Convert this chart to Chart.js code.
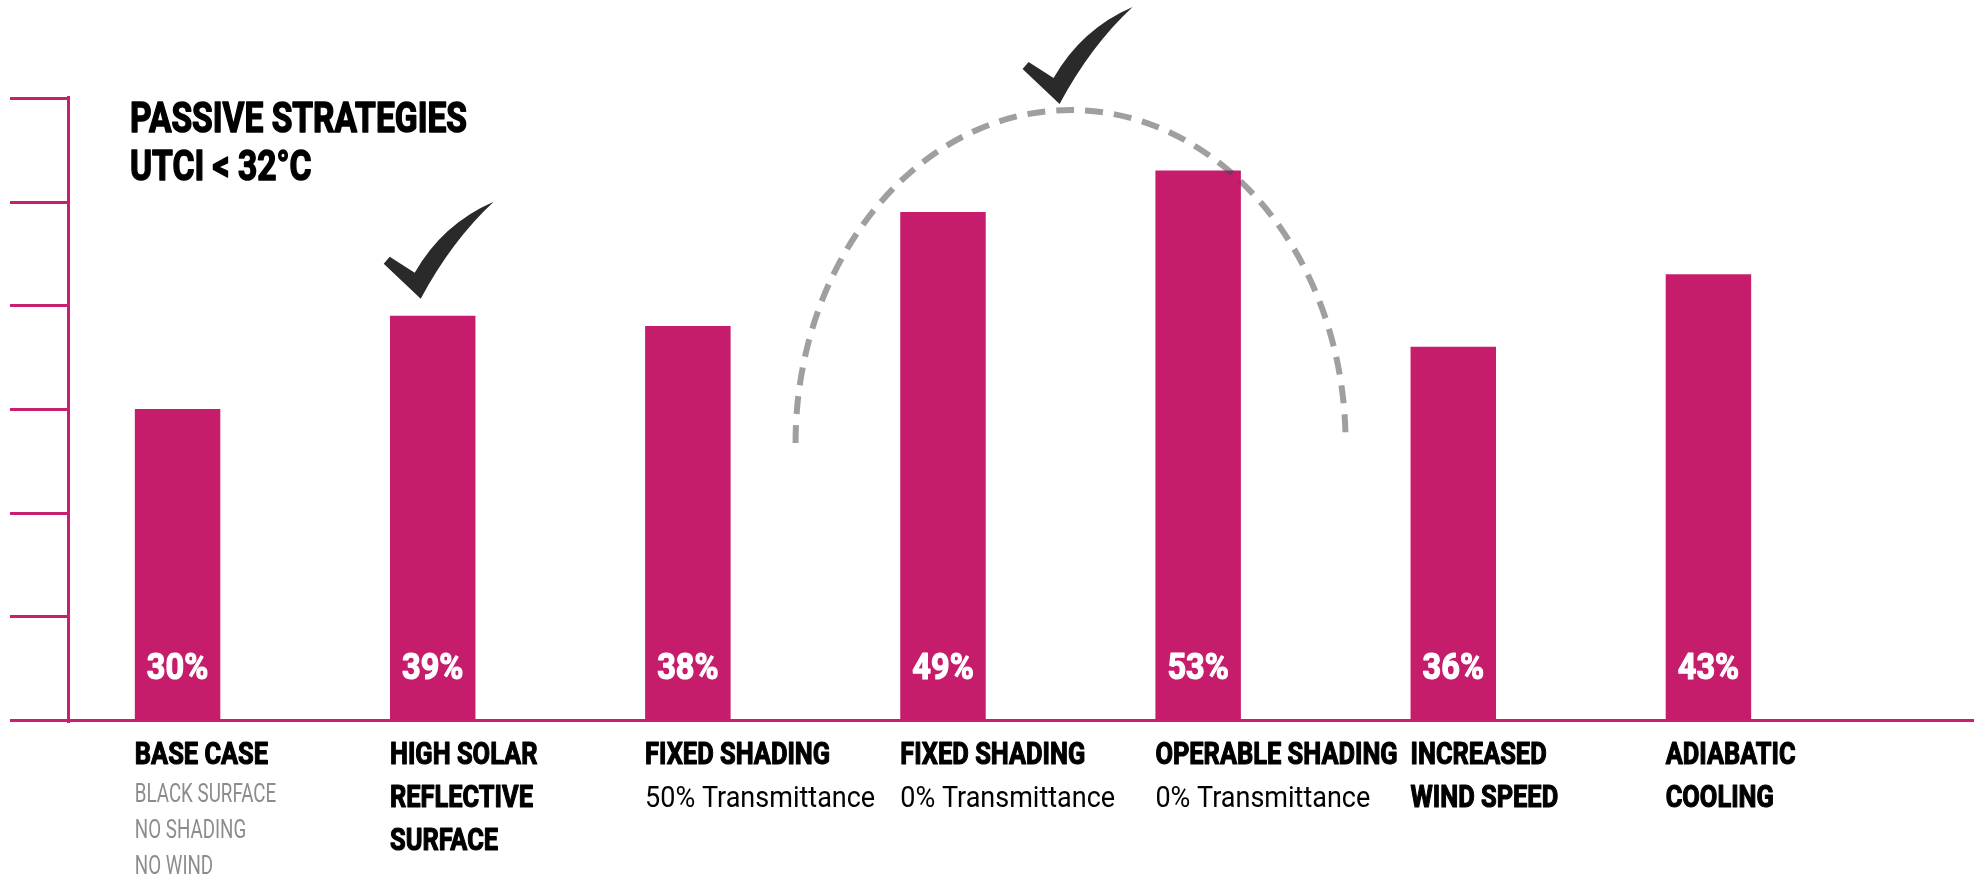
<!DOCTYPE html>
<html>
<head>
<meta charset="utf-8">
<script src="https://cdn.jsdelivr.net/npm/chart.js@4.4.1/dist/chart.umd.min.js"></script>
<style>
  html, body { margin: 0; padding: 0; background: #fff; }
  #wrap { width: 1974px; height: 881px; }
</style>
</head>
<body>
<div id="wrap"><canvas id="passive" width="1974" height="881"></canvas></div>
<script>
// share of hours under UTCI 32°C for each passive strategy
const strategies = [
  'BASE CASE',
  'HIGH SOLAR REFLECTIVE SURFACE',
  'FIXED SHADING 50%',
  'FIXED SHADING 0%',
  'OPERABLE SHADING',
  'INCREASED WIND SPEED',
  'ADIABATIC COOLING'
];
const titleLines = [
  ['BASE CASE'],
  ['HIGH SOLAR', 'REFLECTIVE', 'SURFACE'],
  ['FIXED SHADING'],
  ['FIXED SHADING'],
  ['OPERABLE SHADING'],
  ['INCREASED', 'WIND SPEED'],
  ['ADIABATIC', 'COOLING']
];
const noteLines = [
  ['BLACK SURFACE', 'NO SHADING', 'NO WIND'],
  [],
  ['50% Transmittance'],
  ['0% Transmittance'],
  ['0% Transmittance'],
  [],
  []
];
const comfortShare = [30, 39, 38, 49, 53, 36, 43];
const yMax = 60;
const yStep = 10;
const heading = ['PASSIVE STRATEGIES', 'UTCI < 32°C'];

const MAGENTA = 'rgb(197, 28, 108)';
const AXIS = 'rgb(200, 32, 112)';
const FONT = 'Roboto, "Liberation Sans", sans-serif';

// canvas has no condensed face, so squeeze the glyphs horizontally;
// a thin outline of the same colour makes the bold look heavier
function squeezeText(ctx, text, x, y, font, color, squeeze, align, heavy) {
  ctx.save();
  ctx.font = font;
  ctx.fillStyle = color;
  ctx.textAlign = align || 'left';
  ctx.textBaseline = 'alphabetic';
  ctx.translate(x, y);
  ctx.scale(squeeze, 1);
  ctx.fillText(text, 0, 0);
  if (heavy) {
    ctx.strokeStyle = color;
    ctx.lineWidth = heavy;
    ctx.lineJoin = 'round';
    ctx.strokeText(text, 0, 0);
  }
  ctx.restore();
}

function drawCheck(ctx, bx, by) {
  ctx.save();
  ctx.translate(bx, by);
  ctx.fillStyle = '#2a2a2a';
  ctx.beginPath();
  ctx.moveTo(0, 0);
  ctx.lineTo(-37, -35);
  ctx.lineTo(-31, -42);
  ctx.lineTo(-6, -26);
  ctx.quadraticCurveTo(22, -75, 73, -97);
  ctx.quadraticCurveTo(31, -58, 0, 0);
  ctx.closePath();
  ctx.fill();
  ctx.restore();
}

const axisLines = {
  id: 'axisLines',
  beforeDatasetsDraw(chart) {
    const { ctx, scales: { y } } = chart;
    const axisX = 68.5;
    const tickStart = 10;
    ctx.save();
    ctx.strokeStyle = AXIS;
    ctx.lineWidth = 3;
    ctx.beginPath();
    y.ticks.forEach(t => {
      const py = Math.round(y.getPixelForValue(t.value)) + 0.5;
      ctx.moveTo(tickStart, py);
      ctx.lineTo(t.value === 0 ? chart.width : axisX, py);
    });
    ctx.moveTo(axisX, y.getPixelForValue(yMax) - 2);
    ctx.lineTo(axisX, y.getPixelForValue(0) + 3);
    ctx.stroke();
    ctx.restore();
  }
};

const annotations = {
  id: 'annotations',
  afterDatasetsDraw(chart) {
    const { ctx, scales: { y } } = chart;
    const bars = chart.getDatasetMeta(0).data;
    const zeroY = y.getPixelForValue(0);

    heading.forEach((line, k) => {
      squeezeText(ctx, line, 130, 132 + k * 48, 'bold 43px ' + FONT, '#000', 0.78, 'left', 1.6);
    });

    bars.forEach((bar, i) => {
      const left = bar.x - bar.width / 2;
      squeezeText(ctx, comfortShare[i] + '%', bar.x, zeroY - 41, 'bold 37px ' + FONT, '#fff', 0.88, 'center', 1.2);

      let base = zeroY + 44;
      titleLines[i].forEach((line, k) => {
        base = zeroY + 44 + k * 43;
        squeezeText(ctx, line, left, base, 'bold 31px ' + FONT, '#000', 0.82, 'left', 1.2);
      });

      const muted = i === 0;
      noteLines[i].forEach((line, k) => {
        if (muted) {
          squeezeText(ctx, line, left, base + 38 + k * 36, '25px ' + FONT, '#8c8c8c', 0.75);
        } else {
          squeezeText(ctx, line, left, base + 43, '30px ' + FONT, '#000', 0.9);
        }
      });
    });

    // dashed arc over the two shading bars
    const cx = (bars[3].x + bars[4].x) / 2;
    const cy = zeroY - 277;
    ctx.save();
    ctx.strokeStyle = 'rgba(70, 70, 70, 0.52)';
    ctx.lineWidth = 6;
    ctx.setLineDash([18, 11]);
    ctx.beginPath();
    ctx.ellipse(cx, cy, 275, 333, 0, Math.PI, 2 * Math.PI);
    ctx.stroke();
    ctx.restore();

    drawCheck(ctx, bars[1].x - 12, bars[1].y - 17);
    drawCheck(ctx, cx - 11, cy - 333 - 6);
  }
};

new Chart(document.getElementById('passive'), {
  type: 'bar',
  data: {
    labels: strategies,
    datasets: [{
      data: comfortShare,
      backgroundColor: MAGENTA,
      barPercentage: 0.335,
      categoryPercentage: 1
    }]
  },
  options: {
    responsive: false,
    animation: false,
    layout: { padding: { top: 98, bottom: 161, left: 50, right: 138 } },
    plugins: {
      legend: { display: false },
      tooltip: { enabled: false }
    },
    scales: {
      x: { display: false },
      y: { display: false, min: 0, max: yMax, ticks: { stepSize: yStep } }
    }
  },
  plugins: [axisLines, annotations]
});
</script>
</body>
</html>
